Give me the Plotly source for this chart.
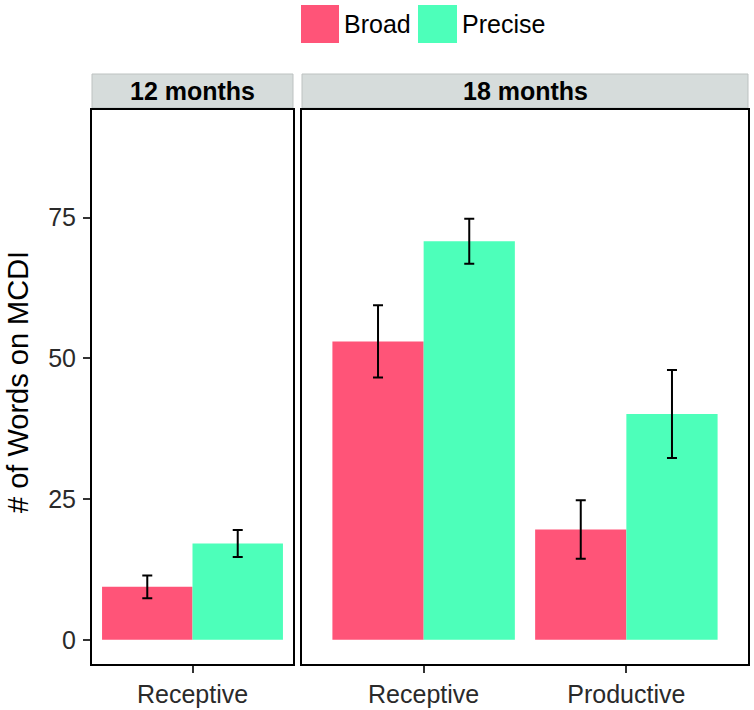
import plotly.graph_objects as go

# Data
groups = ["Broad", "Precise"]
cats_12 = ["Receptive"]
cats_18 = ["Receptive", "Productive"]
broad_12 = [9.4]
broad_12_err = [2.0]
precise_12 = [17.1]
precise_12_err = [2.4]
broad_18 = [53.0, 19.6]
broad_18_err = [6.4, 5.2]
precise_18 = [70.8, 40.1]
precise_18_err = [4.0, 7.8]
y_ticks = [0, 25, 50, 75]
facet_labels = ["12 months", "18 months"]
y_title = "# of Words on MCDI"

colors = {"Broad": "#FF5478", "Precise": "#4DFFBA"}
FONT = "Liberation Sans, Arial, Helvetica, sans-serif"

W, H = 754, 710
L, R, T, B = 92, 6, 110, 46
pw = W - L - R
ph = H - T - B

def px_x(p):
    return (p - L) / pw

def px_y(p):
    return (H - B - p) / ph

fig = go.Figure()
err_style = dict(type="data", color="black", thickness=2, width=5)

fig.add_trace(go.Bar(x=cats_12, y=broad_12, name="Broad", marker=dict(color=colors["Broad"], line=dict(width=0)),
                     error_y=dict(array=broad_12_err, **err_style), xaxis="x", yaxis="y"))
fig.add_trace(go.Bar(x=cats_12, y=precise_12, name="Precise", marker=dict(color=colors["Precise"], line=dict(width=0)),
                     error_y=dict(array=precise_12_err, **err_style), xaxis="x", yaxis="y"))
fig.add_trace(go.Bar(x=cats_18, y=broad_18, name="Broad", marker=dict(color=colors["Broad"], line=dict(width=0)),
                     error_y=dict(array=broad_18_err, **err_style), xaxis="x2", yaxis="y2"))
fig.add_trace(go.Bar(x=cats_18, y=precise_18, name="Precise", marker=dict(color=colors["Precise"], line=dict(width=0)),
                     error_y=dict(array=precise_18_err, **err_style), xaxis="x2", yaxis="y2"))

yr = [-4.3, 94.1]
d1 = [0, px_x(293)]
d2 = [px_x(302), 1.0]

axis_common = dict(showline=True, linecolor="black", linewidth=2, mirror=True, showgrid=False, zeroline=False,
                   automargin=False, ticklen=7, tickwidth=1.5, tickcolor="#333333",
                   tickfont=dict(family=FONT, size=25, color="#2a2a2a"))

fig.update_layout(
    width=W, height=H,
    margin=dict(l=L, r=R, t=T, b=B),
    paper_bgcolor="white", plot_bgcolor="white",
    barmode="group", bargap=0.1, bargroupgap=0,
    xaxis=dict(domain=d1, range=[-0.5, 0.5], type="category", ticks="outside", **axis_common),
    xaxis2=dict(domain=d2, range=[-0.6, 1.6], type="category", ticks="outside", **axis_common),
    yaxis=dict(range=yr, tickvals=y_ticks, anchor="x", ticks="outside", ticklabelstandoff=2, **axis_common),
    yaxis2=dict(range=yr, tickvals=y_ticks, anchor="x2", showticklabels=False, ticks="", **axis_common),
    showlegend=False,
)

shapes = []
annotations = []
strip_top, strip_bot = px_y(74), px_y(108)
for dom, lab in zip([d1, d2], facet_labels):
    shapes.append(dict(type="rect", xref="paper", yref="paper", x0=dom[0], x1=dom[1], y0=strip_bot, y1=strip_top,
                       fillcolor="#D6DCDB", line=dict(color="#BDC2C1", width=1), layer="below"))
    annotations.append(dict(text="<b>" + lab + "</b>", xref="paper", yref="paper", x=(dom[0] + dom[1]) / 2,
                            y=(strip_top + strip_bot) / 2, showarrow=False, xanchor="center", yanchor="middle",
                            font=dict(family=FONT, size=25, color="black")))

# Y axis title
annotations.append(dict(text=y_title, xref="paper", yref="paper", x=px_x(18), y=px_y(382), textangle=-90,
                        showarrow=False, xanchor="center", yanchor="middle",
                        font=dict(family=FONT, size=29, color="black")))

# Legend (custom keys)
leg = [("Broad", 301, 339, 342), ("Precise", 418, 457, 460)]
for name, kx0, kx1, tx in leg:
    shapes.append(dict(type="rect", xref="paper", yref="paper", x0=px_x(kx0), x1=px_x(kx1), y0=px_y(43), y1=px_y(5),
                       fillcolor=colors[name], line=dict(width=0)))
    annotations.append(dict(text=name, xref="paper", yref="paper", x=px_x(tx), y=px_y(24), showarrow=False,
                            xanchor="left", yanchor="middle",
                            font=dict(family=FONT, size=25, color="black")))

fig.update_layout(shapes=shapes, annotations=annotations)
fig.write_html("out.html", config={"displayModeBar": False},
               post_script="document.body.style.margin='0';document.body.style.overflow='hidden';")
